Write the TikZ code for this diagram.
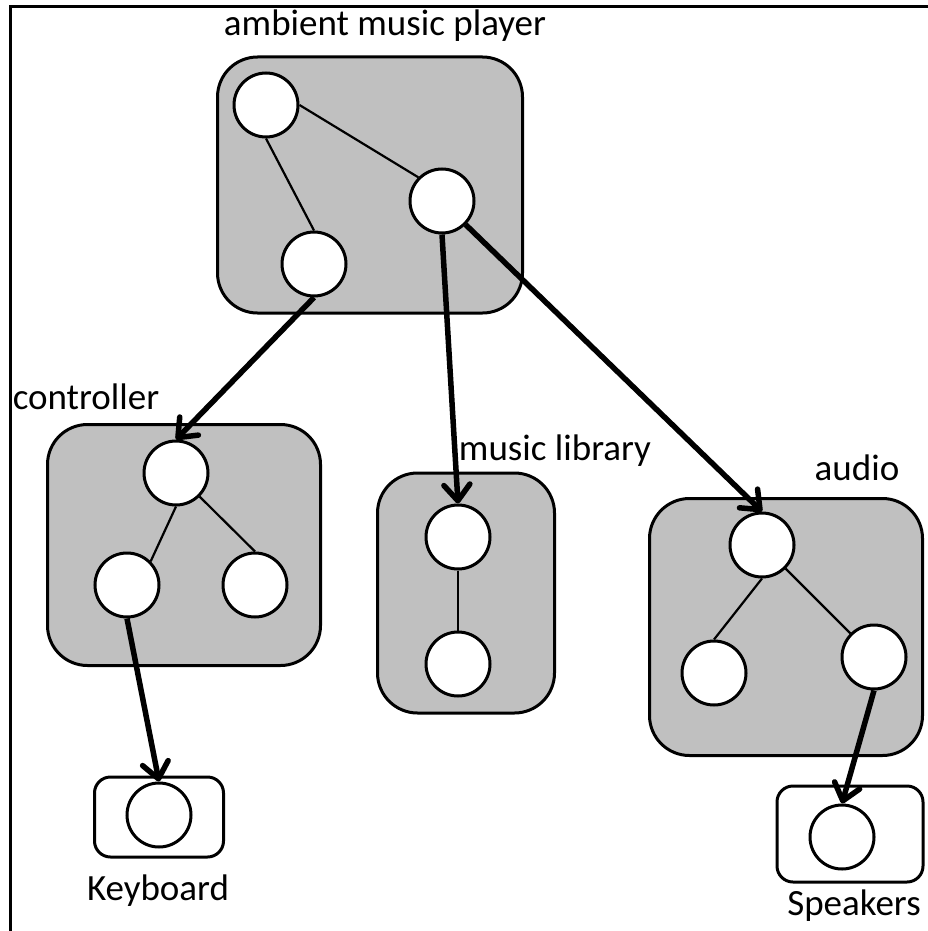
\documentclass[tikz,border=0pt]{standalone}
\usepackage{fontspec}
\setmainfont{Carlito}
\usepackage{xcolor}
\usetikzlibrary{arrows.meta, positioning}
\definecolor{boxgray}{HTML}{C0C0C0}

\begin{document}
\begin{tikzpicture}[
  x=1pt, y=-1pt,
  font=\fontsize{37}{44}\selectfont,
  grp/.style={rectangle, draw=black, fill=boxgray, line width=3pt,
              rounded corners=40pt, inner sep=0pt},
  dev/.style={rectangle, draw=black, fill=white, line width=3pt,
              rounded corners=16pt, inner sep=0pt},
  comp/.style={circle, draw=black, fill=white, line width=3pt,
               minimum size=64pt, inner sep=0pt},
  lbl/.style={inner sep=0pt},
  link/.style={line width=2.2pt},
  flow/.style={-{Straight Barb[length=16pt, width=26pt, round]}, line width=5.5pt}
]
  \useasboundingbox (0,0) rectangle (928,931);
  \draw[line width=3pt] (10,931) -- (10,7) -- (928,7);

  % ── Top: ambient music player ───────────────────────────────────────────────
  \node[grp, minimum width=305pt, minimum height=256pt] (amp) at (370,185) {};
  \node[lbl] (amplbl) at (385,26) {ambient music player};
  \node[comp] (amp1) at (266,105) {};
  \node[comp] (amp2) at (442,201) {};
  \node[comp] (amp3) at (314,264) {};

  % ── Row 2: controller ───────────────────────────────────────────────────────
  \node[grp, minimum width=273pt, minimum height=241pt] (ctl) at (184,545) {};
  \node[lbl] (ctllbl) at (86,397) {controller};
  \node[comp] (ctl1) at (176,473) {};
  \node[comp] (ctl2) at (127,585) {};
  \node[comp] (ctl3) at (255,585) {};

  % ── Row 2: music library ────────────────────────────────────────────────────
  \node[grp, minimum width=177pt, minimum height=240pt] (lib) at (466,593) {};
  \node[lbl] (liblbl) at (555,451) {music library};
  \node[comp] (lib1) at (458,537) {};
  \node[comp] (lib2) at (458,664) {};

  % ── Row 2: audio ────────────────────────────────────────────────────────────
  \node[grp, minimum width=273pt, minimum height=257pt] (aud) at (786,627) {};
  \node[lbl] (audlbl) at (857,468) {audio};
  \node[comp] (aud1) at (762,545) {};
  \node[comp] (aud2) at (714,673) {};
  \node[comp] (aud3) at (874,657) {};

  % ── Row 3: devices ──────────────────────────────────────────────────────────
  \node[dev, minimum width=129pt, minimum height=80pt] (kbd) at (159,817) {};
  \node[comp] (kbd1) at (159,815) {};
  \node[lbl] (kbdlbl) at (158,891) {Keyboard};

  \node[dev, minimum width=146pt, minimum height=96pt] (spk) at (850,834) {};
  \node[comp] (spk1) at (842,837) {};
  \node[lbl] (spklbl) at (854,906) {Speakers};

  % ── Links inside groups ─────────────────────────────────────────────────────
  \draw[link] (amp1.east) -- (amp2.north west);
  \draw[link] (amp1.south) -- (amp3.north);
  \draw[link] (ctl1.south) -- (ctl2.north east);
  \draw[link] (ctl1.south east) -- (ctl3.north);
  \draw[link] (lib1) -- (lib2);
  \draw[link] (aud1.south) -- (aud2.north);
  \draw[link] (aud1.south east) -- (aud3.north west);

  % ── Arrows ──────────────────────────────────────────────────────────────────
  \draw[flow] (amp3.south) -- (ctl1.north);
  \draw[flow] (amp2.south) -- (lib1.north);
  \draw[flow] (amp2.south east) -- (aud1.north);
  \draw[flow] (ctl2.south) -- (kbd1.north);
  \draw[flow] (aud3.south) -- (spk1.north);
\end{tikzpicture}
\end{document}
